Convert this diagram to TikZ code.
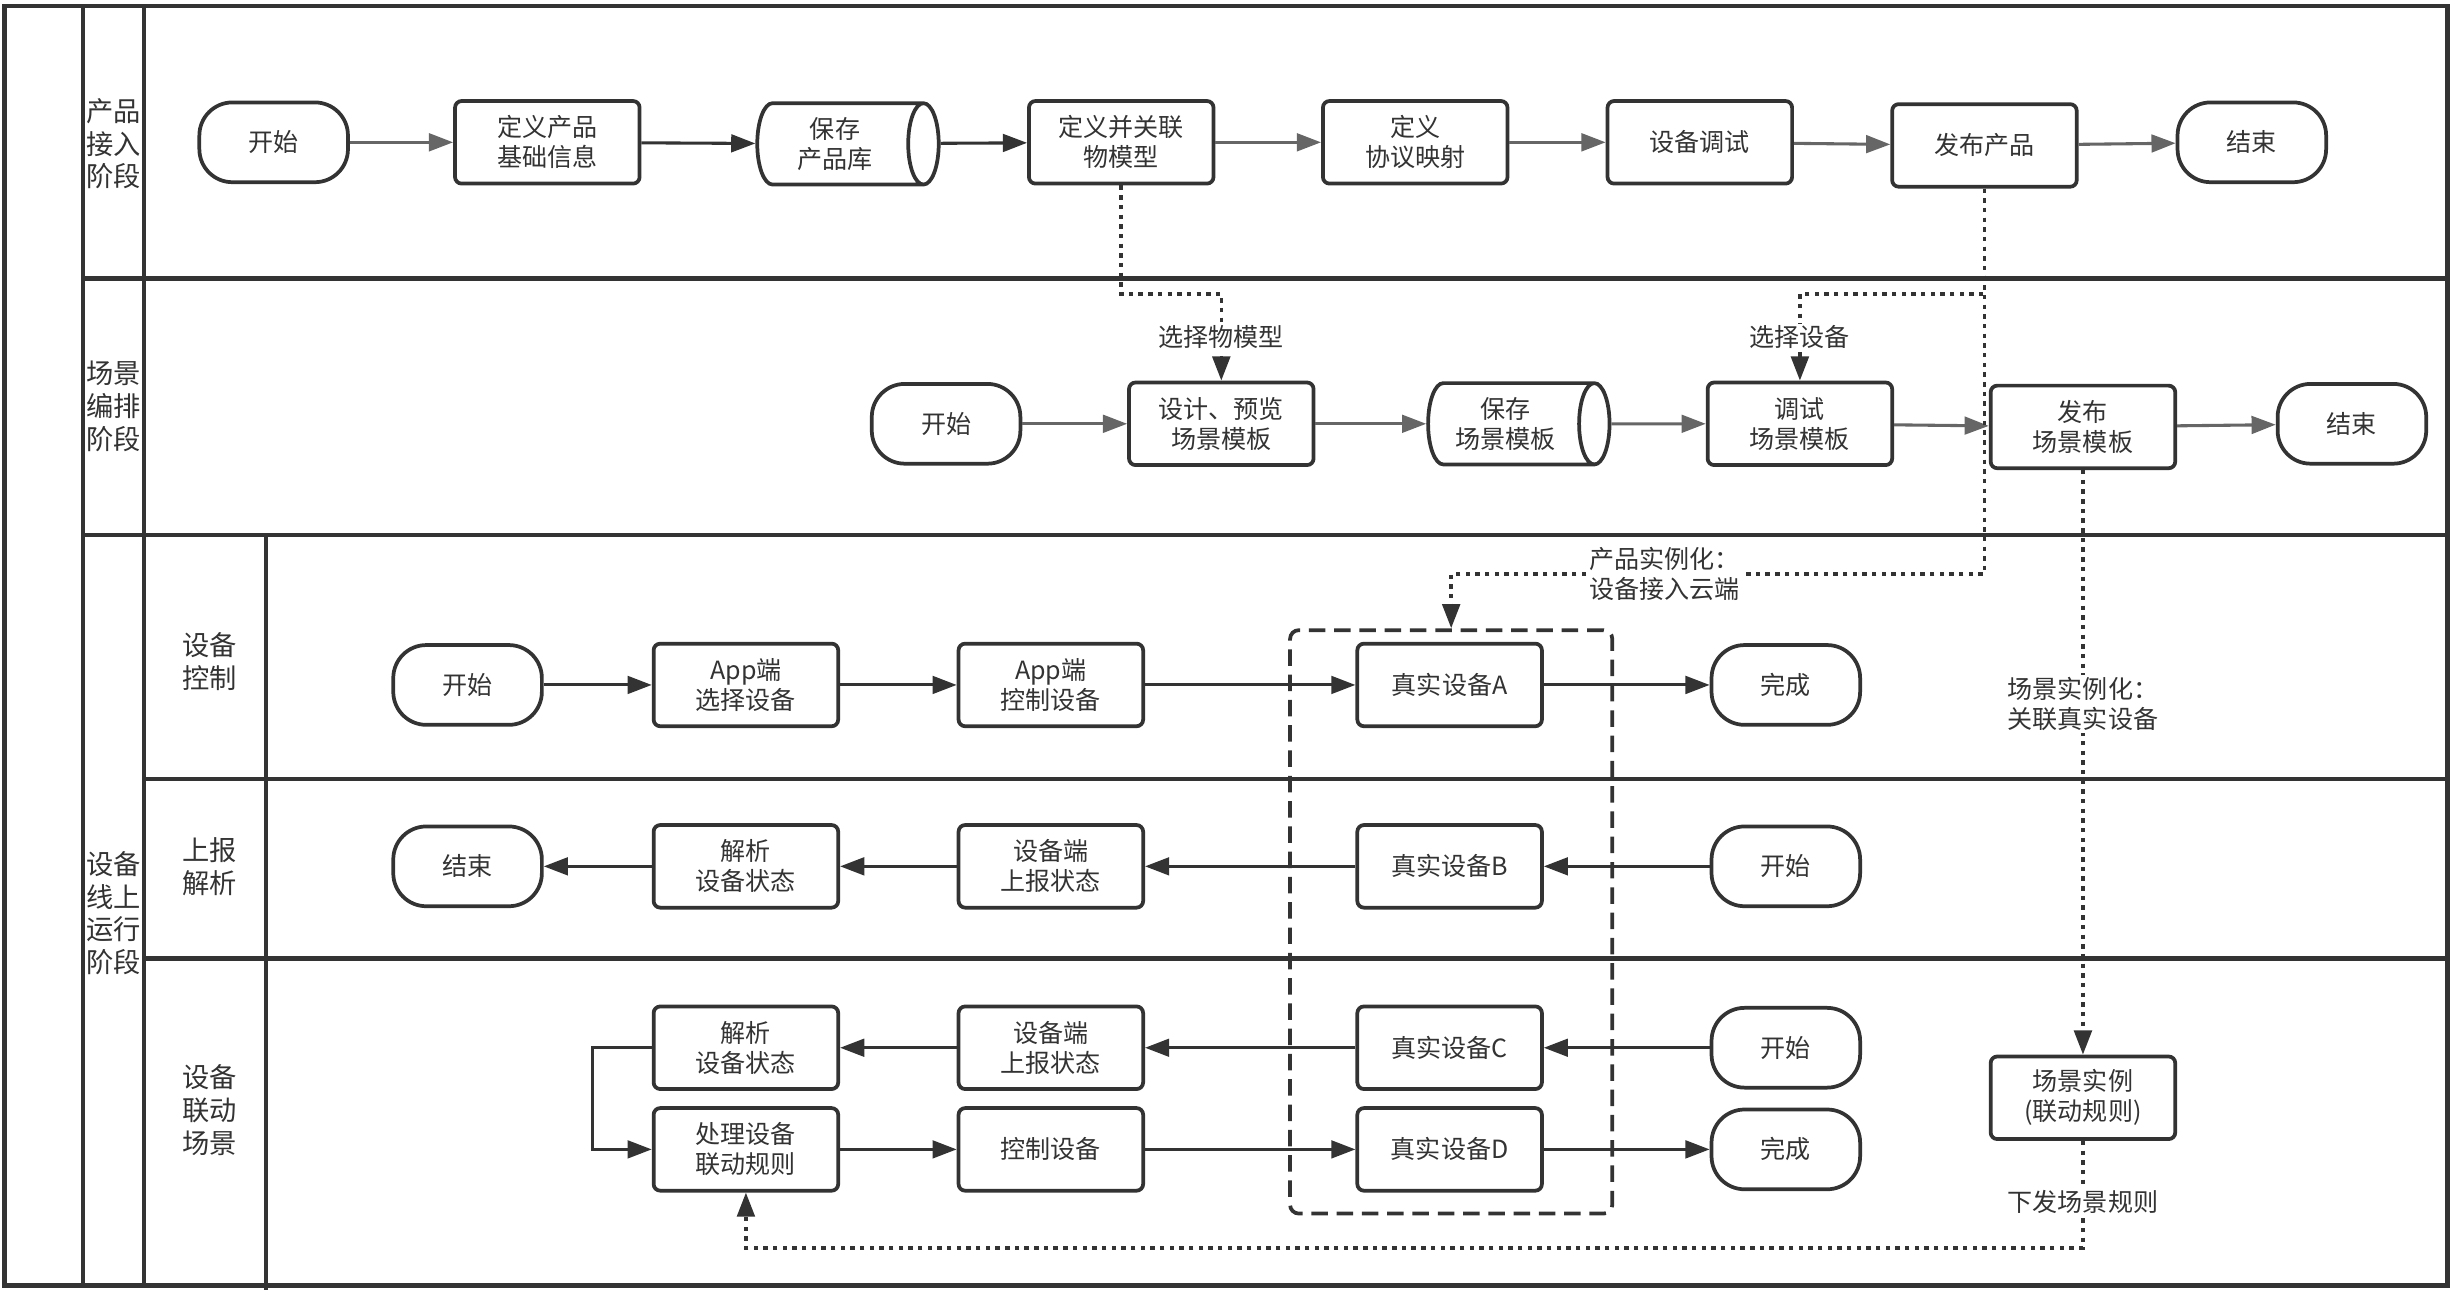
\documentclass[tikz,border=0pt]{standalone}
\usepackage{fontspec}
\newfontfamily\cjk{Noto Sans CJK SC}
\usetikzlibrary{arrows.meta,shapes.geometric}
\definecolor{inkcol}{HTML}{333333}
\definecolor{greycol}{HTML}{666666}

\begin{document}
\begin{tikzpicture}[x=0.025cm,y=-0.025cm,
    font=\cjk\fontsize{11.4pt}{13.6pt}\selectfont, text=inkcol,
    lane/.style={draw=inkcol,line width=2pt},
    lanelabel/.style={font=\cjk\fontsize{12.4pt}{14.9pt}\selectfont,align=center,inner sep=0pt},
    proc/.style={draw=inkcol,line width=1.7pt,rounded corners=3pt,minimum width=2.95cm,minimum height=1.32cm,align=center,inner sep=1pt},
    term/.style={draw=inkcol,line width=1.7pt,rounded corners=15pt,minimum width=2.375cm,minimum height=1.275cm,align=center},
    store/.style={cylinder,draw=inkcol,line width=1.7pt,shape aspect=0.45,minimum width=1.3cm,minimum height=2.9cm,align=center},
    darrow/.style={draw=inkcol,line width=1.4pt,-{Triangle[length=11pt,width=8pt]}},
    garrow/.style={draw=greycol,line width=1.4pt,-{Triangle[length=11pt,width=8pt]}},
    dotarrow/.style={draw=inkcol,line width=1.6pt,dash pattern=on 2pt off 2.4pt,-{Triangle[length=11pt,width=8pt]}},
    note/.style={fill=white,inner sep=1pt,align=left}]
  \useasboundingbox (0,0) rectangle (1568,825);

  % swimlanes
  \draw[lane] (3,4) rectangle (1565,822);
  \draw[lane] (53,4) -- (53,822);
  \draw[lane] (92,4) -- (92,822);
  \draw[lane] (53,178) -- (1565,178);
  \draw[lane] (53,342) -- (1565,342);
  \foreach \y in {498,613}
    \draw[lane] (92,\y) -- (1565,\y);
  \draw[lane] (170,342) -- (170,825);

  \node[lanelabel] (lane1) at (72.5,92) {产品\\接入\\阶段};
  \node[lanelabel] (lane2) at (72.5,260) {场景\\编排\\阶段};
  \node[lanelabel] (lane3) at (72.5,584) {设备\\线上\\运行\\阶段};
  \node[lanelabel] (sub1) at (134,423) {设备\\控制};
  \node[lanelabel] (sub2) at (134,554) {上报\\解析};
  \node[lanelabel] (sub3) at (134,710) {设备\\联动\\场景};

  % product access
  \node[term] (start1) at (175,91) {开始};
  \node[proc] (defbase) at (350,91) {定义产品\\基础信息};
  \node[store] (prodlib) at (534,92) {保存\\产品库};
  \node[proc] (model) at (717,91) {定义并关联\\物模型};
  \node[proc] (proto) at (905,91) {定义\\协议映射};
  \node[proc] (devtest) at (1087,91) {设备调试};
  \node[proc] (pubprod) at (1269,93) {发布产品};
  \node[term] (end1) at (1440,91) {结束};

  \draw[garrow] (start1) -- (defbase);
  \draw[darrow] (defbase) -- (prodlib);
  \draw[darrow] (prodlib) -- (model);
  \draw[garrow] (model) -- (proto);
  \draw[garrow] (proto) -- (devtest);
  \draw[garrow] (devtest) -- (pubprod);
  \draw[garrow] (pubprod) -- (end1);

  % scene arrangement
  \node[term] (start2) at (605,271) {开始};
  \node[proc] (design) at (781,271) {设计、预览\\场景模板};
  \node[store] (scenelib) at (963,271) {保存\\场景模板};
  \node[proc] (debug) at (1151,271) {调试\\场景模板};
  \node[proc] (pubscene) at (1332,273) {发布\\场景模板};
  \node[term] (end2) at (1504,271) {结束};

  \draw[garrow] (start2) -- (design);
  \draw[garrow] (design) -- (scenelib);
  \draw[garrow] (scenelib) -- (debug);
  \draw[garrow] (debug) -- (pubscene);
  \draw[garrow] (pubscene) -- (end2);

  % online running
  \node[draw=inkcol,line width=1.7pt,dash pattern=on 7.5pt off 4pt,rounded corners=4pt,
        minimum width=5.15cm,minimum height=9.325cm] (devbox) at (928,589.5) {};

  \node[term] (start3) at (299,438) {开始};
  \node[proc] (appsel) at (477,438) {App端\\选择设备};
  \node[proc] (appctl) at (672,438) {App端\\控制设备};
  \node[proc] (devA) at (927,438) {真实设备A};
  \node[term] (done1) at (1142,438) {完成};

  \node[term] (end3) at (299,554) {结束};
  \node[proc] (parse1) at (477,554) {解析\\设备状态};
  \node[proc] (report1) at (672,554) {设备端\\上报状态};
  \node[proc] (devB) at (927,554) {真实设备B};
  \node[term] (start4) at (1142,554) {开始};

  \node[proc] (parse2) at (477,670) {解析\\设备状态};
  \node[proc] (report2) at (672,670) {设备端\\上报状态};
  \node[proc] (devC) at (927,670) {真实设备C};
  \node[term] (start5) at (1142,670) {开始};

  \node[proc] (handle) at (477,735) {处理设备\\联动规则};
  \node[proc] (ctl) at (672,735) {控制设备};
  \node[proc] (devD) at (927,735) {真实设备D};
  \node[term] (done2) at (1142,735) {完成};

  \node[proc] (sceneinst) at (1332,702) {场景实例\\(联动规则)};

  \draw[darrow] (start3) -- (appsel);
  \draw[darrow] (appsel) -- (appctl);
  \draw[darrow] (appctl) -- (devA);
  \draw[darrow] (devA) -- (done1);

  \draw[darrow] (start4) -- (devB);
  \draw[darrow] (devB) -- (report1);
  \draw[darrow] (report1) -- (parse1);
  \draw[darrow] (parse1) -- (end3);

  \draw[darrow] (start5) -- (devC);
  \draw[darrow] (devC) -- (report2);
  \draw[darrow] (report2) -- (parse2);
  \draw[darrow] (parse2.west) -- ++(-38,0) |- (handle.west);
  \draw[darrow] (handle) -- (ctl);
  \draw[darrow] (ctl) -- (devD);
  \draw[darrow] (devD) -- (done2);

  % dotted links
  \coordinate (inst) at (928,367);
  \draw[dotarrow] (model.south) -- (model.south |- 0,188) -| node[pos=0.75,note]{选择物模型} (design.north);
  \draw[dotarrow] (pubprod.south) -- (pubprod.south |- 0,188) -| node[pos=0.75,note]{选择设备} (debug.north);
  \draw[dotarrow] (pubprod.south) |- node[pos=0.8,note]{产品实例化：\\设备接入云端} (inst) -- (devbox.north);
  \draw[dotarrow] (pubscene.south) -- node[pos=0.4,note]{场景实例化：\\关联真实设备} (sceneinst.north);
  \draw[dotarrow] (sceneinst.south) -- node[pos=0.57,note]{下发场景规则} (sceneinst.south |- 0,798) -| (handle.south);
\end{tikzpicture}
\end{document}
